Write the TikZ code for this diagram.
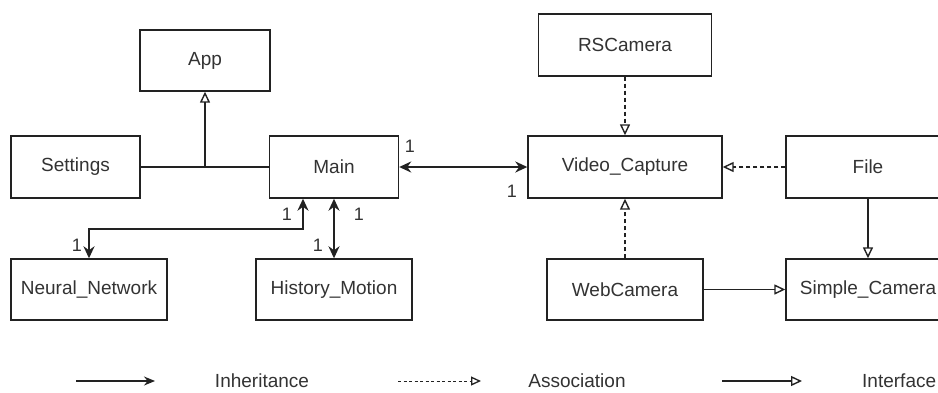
\documentclass[tikz,border=0pt]{standalone}
\usepackage{fontspec}
\setmainfont{Liberation Sans}
\usetikzlibrary{arrows.meta,calc}
\definecolor{ink}{HTML}{222222}
\definecolor{txt}{HTML}{333333}
\begin{document}
\begin{tikzpicture}[x=1pt,y=-1pt,
  cls/.style={draw=ink,line width=1.4pt,inner sep=0pt,text=txt,
    font=\fontsize{19}{23}\selectfont},
  lbl/.style={text=txt,inner sep=0pt,font=\fontsize{18}{21}\selectfont},
  conn/.style={draw=ink,line width=1.4pt},
  openhead/.style={conn,-{Triangle[open,length=11pt,width=10pt,line width=1.4pt]}},
  dashconn/.style={openhead,dash pattern=on 4pt off 3pt},
  bold2/.style={draw=ink,line width=2pt,{Stealth[length=12pt,width=11pt]}-{Stealth[length=12pt,width=11pt]}},
  legtxt/.style={text=txt,inner sep=0pt,font=\fontsize{19}{23}\selectfont}]
\useasboundingbox (0,0) rectangle (938,392);
\clip (0,0) rectangle (938,392);
\fill[white] (0,0) rectangle (938,392);

% classes
\node[cls,minimum width=130pt,minimum height=61pt] (App) at (205,60.5) {App};
\node[cls,minimum width=129pt,minimum height=62pt] (Settings) at (75.5,167) {Settings};
\node[cls,minimum width=129pt,minimum height=62pt] (Main) at (334,167) {Main};
\node[cls,minimum width=173pt,minimum height=62pt] (RS) at (625,45) {RSCamera};
\node[cls,minimum width=194pt,minimum height=62pt] (VC) at (625,167) {Video\_Capture};
\node[cls,minimum width=164pt,minimum height=62pt] (File) at (868,167) {File};
\node[cls,minimum width=156pt,minimum height=61pt] (NN) at (89,289.5) {Neural\_Network};
\node[cls,minimum width=156pt,minimum height=61pt] (HM) at (334,289.5) {History\_Motion};
\node[cls,minimum width=156pt,minimum height=61pt] (WC) at (625,289.5) {WebCamera};
\node[cls,minimum width=164pt,minimum height=61pt] (SC) at (868,289.5) {Simple\_Camera};

% Settings / Main -> App
\draw[conn] (Settings.east) -- (Main.west);
\coordinate (j) at (App.south |- Settings.east);
\draw[openhead] (j) -- (App.south);

% Main <-> Video_Capture
\draw[bold2] (Main.east) -- (VC.west);
\node[lbl] (m1a) at (410,146) {1};
\node[lbl] (m1b) at (512,191) {1};

% Main <-> Neural_Network
\coordinate (ms) at ([xshift=-31pt]Main.south);
\coordinate (nb) at (ms |- 0,229);
\draw[bold2] (ms) -- (nb) -| (NN.north);
\node[lbl] (n1a) at (287,214) {1};
\node[lbl] (n1b) at (77,245) {1};

% Main <-> History_Motion
\draw[bold2] (Main.south) -- (HM.north);
\node[lbl] (h1a) at (359,214) {1};
\node[lbl] (h1b) at (318,245) {1};

% camera relations
\draw[dashconn] (RS.south) -- (VC.north);
\draw[dashconn] (WC.north) -- (VC.south);
\draw[dashconn] (File.west) -- (VC.east);
\draw[openhead] (File.south) -- (SC.north);
\draw[openhead] (WC.east) -- (SC.west);

% legend
\coordinate (l1s) at (76,381);
\coordinate (l1e) at (155,381);
\draw[conn,-{Stealth[length=11pt,width=9pt]}] (l1s) -- (l1e);
\node[legtxt] (L1) at (262,381) {Inheritance};
\coordinate (l2s) at (398,381);
\coordinate (l2e) at (481,381);
\draw[conn,line width=1pt,dash pattern=on 3pt off 2.5pt,-{Triangle[open,length=10pt,width=9pt,line width=1.3pt]}] (l2s) -- (l2e);
\node[legtxt] (L2) at (577,381) {Association};
\coordinate (l3s) at (722,381);
\coordinate (l3e) at (802,381);
\draw[openhead] (l3s) -- (l3e);
\node[legtxt,anchor=west] (L3) at (862,381) {Interface};
\end{tikzpicture}
\end{document}
